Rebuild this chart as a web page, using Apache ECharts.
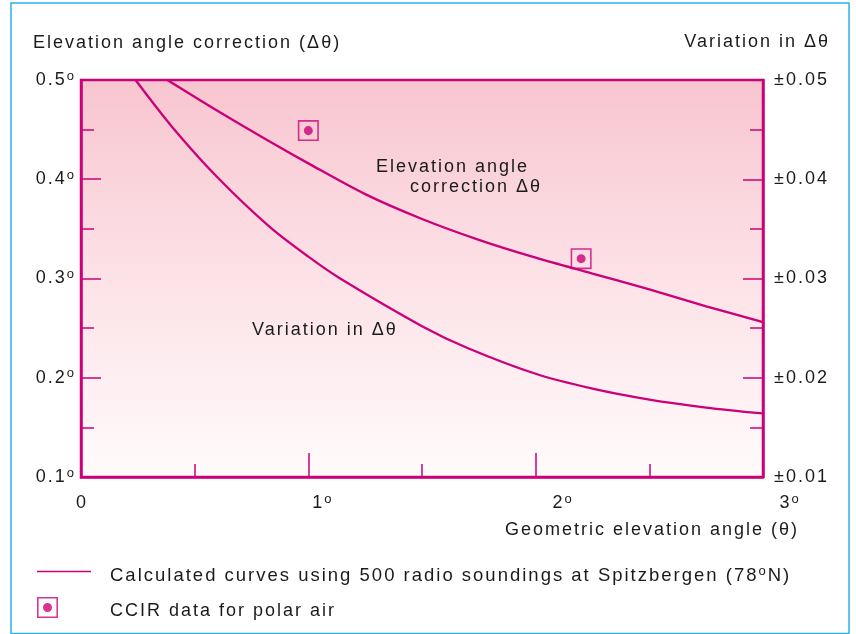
<!DOCTYPE html>
<html>
<head>
<meta charset="utf-8">
<script src="https://cdn.jsdelivr.net/npm/echarts@6/dist/echarts.min.js"></script>
<style>
  html, body { margin: 0; padding: 0; background: #ffffff; }
  #chart { width: 856px; height: 634px; }
</style>
</head>
<body>
<div id="chart"></div>
<script>
// Elevation angle correction (left axis, degrees) vs geometric elevation angle
const corrAngle = [0.38, 0.6, 0.83, 1.0, 1.25, 1.5, 1.75, 2.0, 2.25, 2.5, 2.75, 3.0];
const corrValue = [0.500, 0.469, 0.438, 0.416, 0.385, 0.360, 0.339, 0.321, 0.305, 0.289, 0.272, 0.256];

// Variation in the correction (right axis, ± degrees)
const varAngle = [0.24, 0.4, 0.6, 0.83, 1.0, 1.14, 1.5, 1.7, 2.0, 2.25, 2.5, 2.75, 3.0];
const varValue = [0.0500, 0.0453, 0.0402, 0.0352, 0.0322, 0.0300, 0.0252, 0.0230, 0.0204, 0.0189, 0.0178, 0.0170, 0.0164];

// CCIR polar-air data points
const ccirAngle = [1.0, 2.2];
const ccirValue = [0.449, 0.320];

// Tick labels
const xTickLabels = ['0', '1', '2', '3'];
const xTickDegree = [false, true, true, true];
const leftTickLabels = ['0.1', '0.2', '0.3', '0.4', '0.5'];
const rightTickLabels = ['±0.01', '±0.02', '±0.03', '±0.04', '±0.05'];

const CURVE_NAME = 'Calculated curves using 500 radio soundings at Spitzbergen (78°N)';
const CCIR_NAME = 'CCIR data for polar air';

const INK = '#1b1b1b';
const MAGENTA = '#cc0078';
const FRAME = '#2cb2ee';
const FONT = "'Liberation Sans', Arial, Helvetica, sans-serif";
const TRACK = 2; // letter spacing in px

// Tracked lettering: canvas text gets letter spacing, and layout measurement includes it.
const measureCtx = document.createElement('canvas').getContext('2d');
if ('letterSpacing' in measureCtx) {
  const proto = CanvasRenderingContext2D.prototype;
  const fillText = proto.fillText;
  const strokeText = proto.strokeText;
  proto.fillText = function (t, x, y, w) {
    this.letterSpacing = TRACK + 'px';
    return w === undefined ? fillText.call(this, t, x, y) : fillText.call(this, t, x, y, w);
  };
  proto.strokeText = function (t, x, y, w) {
    this.letterSpacing = TRACK + 'px';
    return w === undefined ? strokeText.call(this, t, x, y) : strokeText.call(this, t, x, y, w);
  };
  echarts.setPlatformAPI({
    measureText(text, font) {
      measureCtx.letterSpacing = '0px';
      measureCtx.font = font || '12px sans-serif';
      const s = text == null ? '' : String(text);
      const m = measureCtx.measureText(s);
      const extra = TRACK * Array.from(s).length;
      return {
        width: m.width + extra,
        actualBoundingBoxAscent: m.actualBoundingBoxAscent,
        actualBoundingBoxDescent: m.actualBoundingBoxDescent,
        actualBoundingBoxLeft: m.actualBoundingBoxLeft,
        actualBoundingBoxRight: m.actualBoundingBoxRight + extra,
        fontBoundingBoxAscent: m.fontBoundingBoxAscent,
        fontBoundingBoxDescent: m.fontBoundingBoxDescent
      };
    }
  });
}

const zip = (xs, ys) => xs.map((x, i) => [x, ys[i]]);

// Square frame with a centre dot, used for the CCIR points and their legend key
const CCIR_SYMBOL = 'path://M0,0 H20 V20 H0 Z M1.5,1.5 V18.5 H18.5 V1.5 Z ' +
  'M10,5.7 A4.3,4.3 0 1,1 10,14.3 A4.3,4.3 0 1,1 10,5.7 Z';

const num = { fontSize: 18, fontFamily: FONT, color: INK, lineHeight: 20 };
const tickRich = {
  n: num,
  s: { fontSize: 13, fontFamily: FONT, color: INK, lineHeight: 12, padding: [0, 0, 8, 0] },
  p0: Object.assign({ padding: [0, 0, 0, 2] }, num),
  p1: Object.assign({ padding: [0, 0, 0, 29] }, num),
  p2: Object.assign({ padding: [0, 0, 0, 55] }, num),
  p3: Object.assign({ padding: [0, 0, 0, 54] }, num)
};

const axisLine = { show: true, lineStyle: { color: MAGENTA, width: 2.5 } };
const tickStyle = { color: MAGENTA, width: 1.5 };

const textBase = { fontSize: 18, fontWeight: 'normal', fontFamily: FONT, color: INK };

const chart = echarts.init(document.getElementById('chart'), null, { renderer: 'canvas' });

const option = {
  animation: false,
  backgroundColor: '#ffffff',
  title: [
    { text: 'Elevation angle correction (Δθ)', left: 33, top: 33, padding: 0, textStyle: textBase },
    { text: 'Variation in Δθ', right: 26, top: 32, padding: 0, textStyle: textBase },
    { text: 'Geometric elevation angle (θ)', right: 57, top: 520, padding: 0, textStyle: textBase }
  ],
  grid: {
    left: 81, right: 93, top: 80, bottom: 157,
    show: true,
    borderColor: MAGENTA,
    borderWidth: 2.5,
    backgroundColor: {
      type: 'linear', x: 0, y: 0, x2: 0, y2: 1,
      colorStops: [
        { offset: 0, color: '#f8c5cf' },
        { offset: 0.5, color: '#fce2e7' },
        { offset: 1, color: '#fffbfb' }
      ]
    },
    outerBoundsMode: 'none'
  },
  xAxis: {
    type: 'value', min: 0, max: 3, interval: 1,
    axisLine: axisLine,
    axisTick: { show: true, inside: true, length: 24, lineStyle: tickStyle },
    minorTick: { show: true, splitNumber: 2, length: 13, lineStyle: tickStyle },
    splitLine: { show: false },
    minorSplitLine: { show: false },
    axisLabel: {
      margin: 16,
      formatter: (v) => {
        const i = Math.round(v);
        return '{p' + i + '|' + xTickLabels[i] + '}' + (xTickDegree[i] ? '{s|o}' : '');
      },
      rich: tickRich
    }
  },
  yAxis: [
    {
      type: 'value', min: 0.1, max: 0.5, interval: 0.1, position: 'left',
      axisLine: axisLine,
      axisTick: { show: true, inside: true, length: 20, lineStyle: tickStyle },
      minorTick: { show: true, splitNumber: 2, length: 13, lineStyle: tickStyle },
      splitLine: { show: false },
      minorSplitLine: { show: false },
      axisLabel: {
        margin: 5,
        formatter: (v) => '{n|' + leftTickLabels[Math.round((v - 0.1) / 0.1)] + '}{s|o}',
        rich: tickRich
      }
    },
    {
      type: 'value', min: 0.01, max: 0.05, interval: 0.01, position: 'right',
      axisLine: axisLine,
      axisTick: { show: true, inside: true, length: 20, lineStyle: tickStyle },
      minorTick: { show: true, splitNumber: 2, length: 13, lineStyle: tickStyle },
      splitLine: { show: false },
      minorSplitLine: { show: false },
      axisLabel: {
        margin: 11,
        formatter: (v) => '{n|' + rightTickLabels[Math.round((v - 0.01) / 0.01)] + '}',
        rich: tickRich
      }
    }
  ],
  legend: [
    {
      // Entry for the calculated curves; its stroke key is drawn as a graphic line below
      data: [{ name: CURVE_NAME }],
      left: 37, top: 557, padding: 0,
      itemWidth: 54, itemHeight: 14,
      itemStyle: { opacity: 0 },
      lineStyle: { width: 0, opacity: 0 },
      formatter: () => '{a0|Calculated curves using 500 radio soundings at Spitzbergen (78}{s|o}{a|N)}',
      textStyle: {
        rich: {
          a0: { fontSize: 18.5, fontFamily: FONT, color: INK, lineHeight: 20, padding: [8, 0, 0, 14] },
          a: { fontSize: 18.5, fontFamily: FONT, color: INK, lineHeight: 20, padding: [8, 0, 0, 0] },
          s: { fontSize: 13, fontFamily: FONT, color: INK, lineHeight: 12, padding: [0, 0, 0, 0] }
        }
      }
    },
    {
      data: [{ name: CCIR_NAME }],
      left: 37, top: 594, padding: 0,
      itemWidth: 21, itemHeight: 21,
      formatter: (name) => '{b|' + name + '}',
      textStyle: {
        rich: {
          b: { fontSize: 18, fontFamily: FONT, color: INK, lineHeight: 18, padding: [7, 0, 0, 47] }
        }
      }
    }
  ],
  graphic: [
    {
      type: 'rect', silent: true, z: 100,
      shape: { x: 11, y: 3, width: 838, height: 630.5 },
      style: { fill: 'none', stroke: FRAME, lineWidth: 1.5 }
    },
    {
      // legend key stroke for the calculated curves
      type: 'line', silent: true, z: 100,
      shape: { x1: 37, y1: 571.5, x2: 91, y2: 571.5 },
      style: { stroke: MAGENTA, lineWidth: 1.3 }
    },
    {
      type: 'text', x: 376, y: 167, silent: true, z: 50,
      style: { text: 'Elevation angle', font: '18px ' + FONT, fill: INK,
        verticalAlign: 'middle', textVerticalAlign: 'middle' }
    },
    {
      type: 'text', x: 410, y: 187, silent: true, z: 50,
      style: { text: 'correction Δθ', font: '18px ' + FONT, fill: INK,
        verticalAlign: 'middle', textVerticalAlign: 'middle' }
    },
    {
      type: 'text', x: 252, y: 330, silent: true, z: 50,
      style: { text: 'Variation in Δθ', font: '18px ' + FONT, fill: INK,
        verticalAlign: 'middle', textVerticalAlign: 'middle' }
    }
  ],
  series: [
    {
      name: CURVE_NAME, type: 'line', xAxisIndex: 0, yAxisIndex: 0,
      data: zip(corrAngle, corrValue),
      symbol: 'none', smooth: 0.3,
      color: MAGENTA,
      lineStyle: { color: MAGENTA, width: 2.3 },
      itemStyle: { color: MAGENTA },
      z: 3
    },
    {
      name: CURVE_NAME, type: 'line', xAxisIndex: 0, yAxisIndex: 1,
      data: zip(varAngle, varValue),
      symbol: 'none', smooth: 0.3,
      color: MAGENTA,
      lineStyle: { color: MAGENTA, width: 2.3 },
      itemStyle: { color: MAGENTA },
      z: 3
    },
    {
      name: CCIR_NAME, type: 'scatter', xAxisIndex: 0, yAxisIndex: 0,
      data: zip(ccirAngle, ccirValue),
      symbol: CCIR_SYMBOL, symbolSize: 21,
      itemStyle: { color: MAGENTA },
      z: 4
    }
  ]
};

chart.setOption(option);
</script>
</body>
</html>
